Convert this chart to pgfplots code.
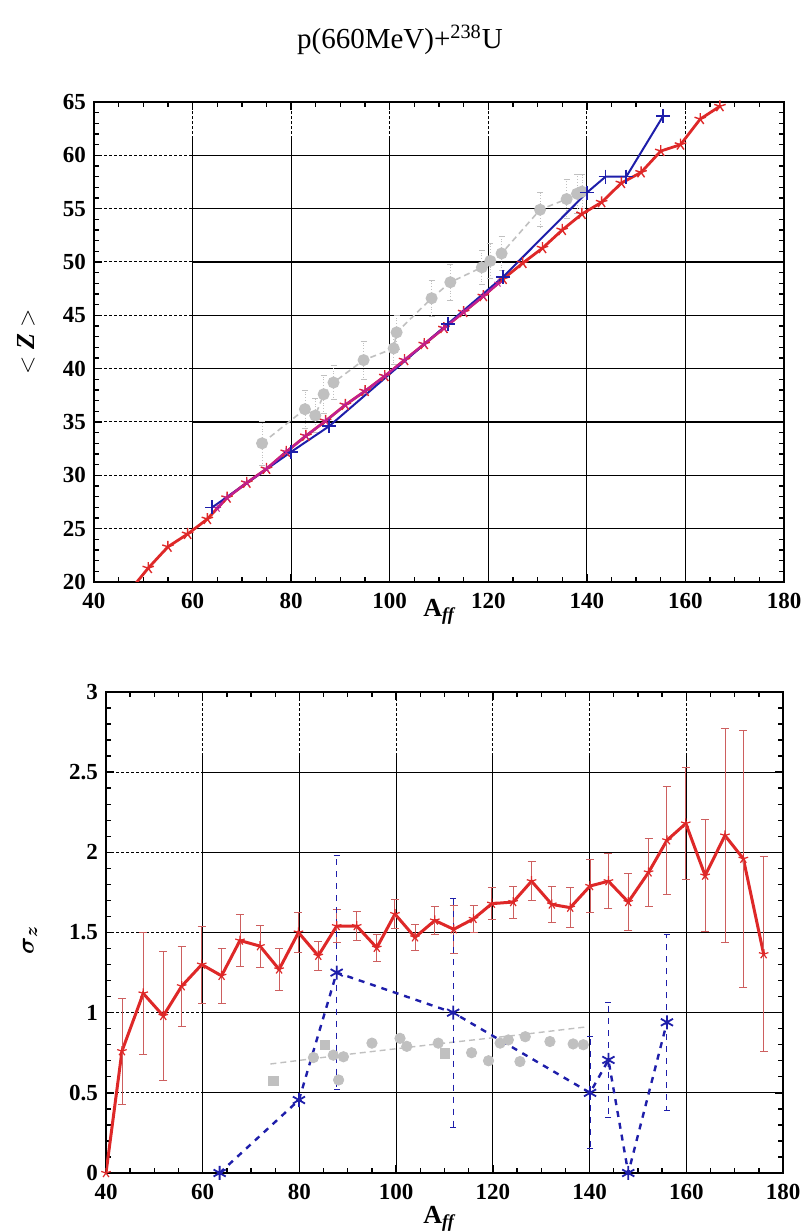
\documentclass[border=0pt]{standalone}
\usepackage{amsmath}
\usepackage{bm}
\usepackage{pgfplots}
\pgfplotsset{compat=1.18}
\usepackage{fontspec}
\setmainfont{Liberation Serif}
\definecolor{myred}{RGB}{222,40,40}
\definecolor{myerr}{RGB}{205,95,95}
\definecolor{myblue}{RGB}{30,30,170}
\definecolor{mygray}{RGB}{192,192,192}
\definecolor{mymag}{RGB}{190,30,150}
\tikzset{
  gdash/.style={black, line width=0.5pt, dash pattern=on 1.5pt off 1pt},
  gsolid/.style={black, line width=0.6pt},
}
\pgfplotsset{
  myaxis/.style={
    anchor=south west, scale only axis,
    ticklabel style={font=\fontsize{11.5}{12}\selectfont\bfseries},
    xticklabel style={yshift=-2pt},
    yticklabel style={xshift=-0.5pt},
    /pgf/number format/assume math mode=true,
    axis line style={line width=0.9pt},
    tick style={black, line width=0.7pt},
    major tick length=4pt, minor tick length=2.5pt,
    tick align=inside,
    clip=true,
  },
}
\begin{document}
\begin{tikzpicture}[x=1pt,y=1pt]
\useasboundingbox (0,0) rectangle (403,616);
\node at (200,596) {\fontsize{14.5}{16}\selectfont p(660MeV)+\textsuperscript{238}U};
\node at (220,310) {\fontsize{13}{14}\selectfont\bfseries A\textsubscript{\textit{ff}}};
\node[rotate=90] at (13,445) {\fontsize{13}{14}\selectfont\bfseries $<$ \textit{Z} $>$};
\node at (220,6.5) {\fontsize{13}{14}\selectfont\bfseries A\textsubscript{\textit{ff}}};
\node[rotate=90] at (15,146) {\fontsize{13}{14}\selectfont $\bm{\sigma_z}$};

% ---------------- top panel ----------------
\begin{axis}[myaxis, at={(47pt,325pt)}, width=345pt, height=240pt,
  xmin=40, xmax=180, ymin=20, ymax=65,
  xtick={40,60,...,180}, ytick={20,25,...,65},
  minor x tick num=3, minor y tick num=4]
\pgfplotsinvokeforeach{25,30,...,60}{
  \draw[gdash] (axis cs:40,#1) -- (axis cs:60,#1);
  \draw[gsolid] (axis cs:60,#1) -- (axis cs:180,#1);
}
\pgfplotsinvokeforeach{60,80,...,160}{
  \draw[gdash] (axis cs:#1,61.5) -- (axis cs:#1,65);
  \draw[gsolid] (axis cs:#1,20) -- (axis cs:#1,61.5);
}
% gray data
\addplot[mygray, densely dashed, line width=0.8pt, mark=*, mark size=2.6pt,
  mark options={solid, fill=mygray, draw=mygray},
  error bars/.cd, y dir=both, y explicit,
  error bar style={mygray, line width=0.4pt, densely dotted},
  error mark options={rotate=90, mark size=1.5pt, mygray}]
table[x=a, y=z, y error=e] {
a z e
74.1 33.0 2.1
82.8 36.2 1.8
84.9 35.6 1.6
86.6 37.6 1.8
88.6 38.7 1.6
94.7 40.8 1.8
100.8 41.9 1.5
101.4 43.4 1.6
108.5 46.6 1.7
112.3 48.1 1.7
118.7 49.5 1.6
120.4 50.1 1.6
122.7 50.8 1.6
130.5 54.9 1.6
135.9 55.9 1.8
138.0 56.4 1.8
139.0 56.6 1.6
};
% red data
\addplot[myred, line width=1.4pt, mark=star, mark size=3pt, mark options={line width=0.7pt}]
table {
48 19.6
51 21.3
55 23.3
59 24.5
63 25.9
67 27.9
71 29.3
75 30.6
79 32.2
83 33.7
87 35.1
91 36.6
95 37.9
99 39.3
103 40.8
107 42.3
111 43.8
115 45.3
119 46.8
123 48.4
127 49.9
131 51.3
135 53.0
139 54.5
143 55.6
147 57.4
151 58.4
155 60.4
159 61.0
163 63.4
167 64.6
};
% blue data
\addplot[myblue, line width=1.0pt, mark=+, mark size=3.5pt, mark options={line width=0.8pt}]
table {
64.0 27.0
80.0 32.2
87.7 34.6
111.8 44.2
123.0 48.6
140.0 56.5
143.8 58.0
148.0 58.0
155.5 63.7
};
% magenta overlap
\addplot[mymag, line width=1.1pt, mark=star, mark size=2pt, mark options={line width=0.5pt}]
table {
65 26.9
67 27.9
71 29.3
75 30.6
79 32.2
83 33.7
87 35.1
91 36.6
95 37.9
99 39.3
103 40.8
107 42.3
111 43.8
115 45.3
119 46.8
122 48.0
};
\end{axis}

% ---------------- bottom panel ----------------
\begin{axis}[myaxis, at={(53pt,29.5pt)}, width=338.5pt, height=240.5pt,
  xmin=40, xmax=180, ymin=0, ymax=3,
  xtick={40,60,...,180}, ytick={0,0.5,...,3},
  yticklabels={0,0.5,1,1.5,2,2.5,3},
  minor x tick num=3, minor y tick num=4]
\pgfplotsinvokeforeach{0.5,1,1.5,2,2.5}{
  \draw[gdash] (axis cs:40,#1) -- (axis cs:60,#1);
  \draw[gsolid] (axis cs:60,#1) -- (axis cs:180,#1);
}
\pgfplotsinvokeforeach{60,80,...,160}{
  \draw[gdash] (axis cs:#1,2.6) -- (axis cs:#1,3);
  \draw[gsolid] (axis cs:#1,0) -- (axis cs:#1,2.6);
}
% gray trend
\addplot[mygray, densely dashed, line width=0.7pt] table {
74 0.68
90 0.74
110 0.81
125 0.86
139 0.91
};
% gray circles
\addplot[only marks, mark=*, mark size=2.6pt, mark options={fill=mygray, draw=mygray}] table {
82.9 0.72
87.0 0.735
89.1 0.725
88.1 0.58
95.0 0.81
100.8 0.84
102.2 0.79
108.7 0.81
115.6 0.75
119.1 0.70
121.5 0.81
123.2 0.83
125.6 0.695
126.7 0.85
131.8 0.82
136.6 0.805
138.7 0.80
};
% gray squares
\addplot[only marks, mark=square*, mark size=2.4pt, mark options={fill=mygray, draw=mygray}] table {
74.6 0.575
85.3 0.80
110.1 0.745
};
% red data
\addplot[myred, line width=1.5pt, mark=star, mark size=2.5pt, mark options={line width=0.6pt},
  error bars/.cd, y dir=both, y explicit,
  error bar style={myerr, line width=0.45pt, solid},
  error mark options={rotate=90, mark size=2pt, line width=0.45pt, myerr}]
table[x=a, y=s, y error=e] {
a s e
40.0 0.0 0
43.3 0.76 0.33
47.7 1.12 0.38
51.85 0.98 0.40
55.65 1.165 0.25
59.8 1.30 0.24
63.9 1.23 0.17
67.7 1.45 0.16
71.85 1.415 0.13
75.8 1.27 0.13
79.8 1.50 0.125
83.9 1.355 0.09
87.7 1.54 0.105
91.85 1.54 0.09
96.0 1.405 0.085
99.75 1.615 0.09
103.9 1.47 0.08
108.0 1.575 0.085
111.9 1.52 0.15
116.0 1.585 0.085
119.8 1.68 0.10
124.2 1.69 0.10
128.0 1.82 0.12
132.2 1.675 0.11
136.0 1.655 0.125
140.1 1.79 0.165
143.9 1.82 0.17
148.0 1.69 0.18
152.2 1.875 0.21
156.0 2.075 0.335
159.9 2.18 0.35
163.9 1.855 0.35
168.0 2.105 0.67
171.8 1.96 0.80
176.0 1.365 0.61
};
% blue data
\addplot[myblue, line width=1.2pt, dashed, mark=asterisk, mark size=3.5pt, mark options={solid, line width=0.9pt},
  error bars/.cd, y dir=both, y explicit,
  error bar style={myblue, line width=0.5pt, dashed},
  error mark options={rotate=90, mark size=1.5pt, line width=0.5pt, myblue}]
table[x=a, y=s, y error=e] {
a s e
63.5 0.0 0
79.9 0.455 0
87.7 1.25 0.73
111.8 1.0 0.715
140.1 0.50 0.35
143.9 0.705 0.36
148.0 0.0 0
156.0 0.94 0.55
};
\end{axis}
\end{tikzpicture}
\end{document}
